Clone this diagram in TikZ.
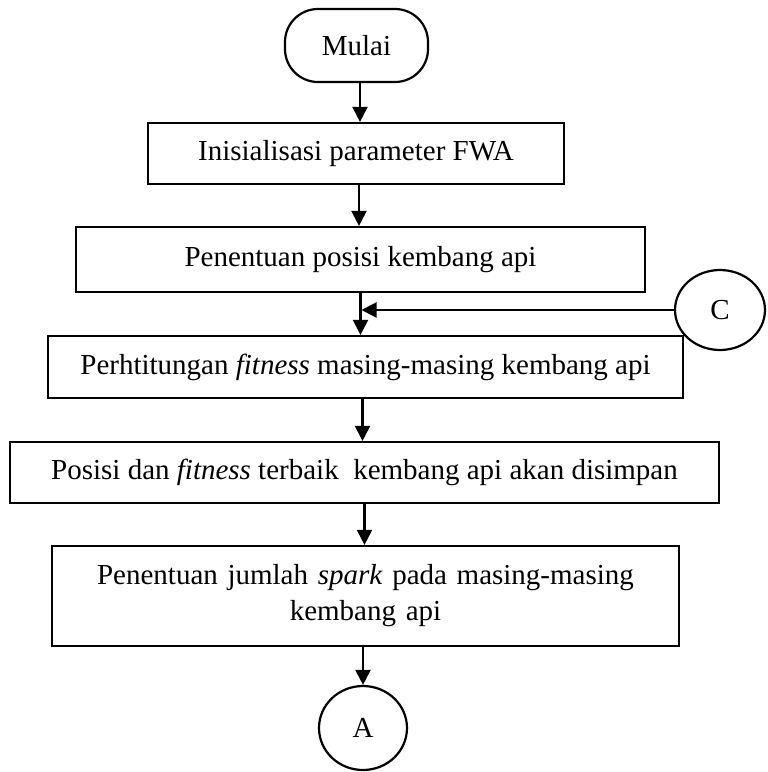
\documentclass[tikz,border=0pt]{standalone}
\usepackage{fontspec}
\setmainfont{Liberation Serif}
\usetikzlibrary{arrows.meta, shapes.geometric}

\begin{document}
\begin{tikzpicture}[x=1pt, y=-1pt,
    font=\fontsize{29}{36}\selectfont,
    proses/.style={draw, line width=2.2pt, inner sep=0pt, align=center},
    konektor/.style={draw, line width=2.2pt, ellipse, inner sep=0pt},
    panah/.style={line width=2.2pt, -{Triangle[length=15pt, width=15pt]}}]

    % Fix the page to the reference size
    \useasboundingbox (0,0) rectangle (768,772);

    % Start terminal
    \node[proses, rounded corners=33pt, minimum width=143pt, minimum height=73pt] (mulai) at (356.5,45.5) {Mulai};

    % Process boxes
    \node[proses, minimum width=416pt, minimum height=61pt] (inisial) at (356,153.5) {Inisialisasi parameter FWA};
    \node[proses, minimum width=569pt, minimum height=65pt] (posisi) at (360.5,259.5) {Penentuan posisi kembang api};
    \node[proses, minimum width=635pt, minimum height=62pt] (fitness) at (365.5,367) {Perhtitungan \textit{fitness} masing-masing kembang api};
    \node[proses, minimum width=709pt, minimum height=61pt] (simpan) at (364.5,472.5) {Posisi dan \textit{fitness} terbaik~ kembang api akan disimpan};
    \node[proses, minimum width=627pt, minimum height=100pt, text width=600pt] (spark) at (365.5,596) {Penentuan jumlah \textit{spark} pada masing-masing\\kembang api};

    % Off-page connectors
    \node[konektor, minimum width=90pt, minimum height=80pt] (c) at (720,310) {C};
    \node[konektor, minimum width=88pt, minimum height=84pt] (a) at (363,728) {A};

    % Flow arrows
    \draw[panah] ([xshift=3.5pt]mulai.south) -- ([xshift=3.5pt]mulai.south |- inisial.north);
    \draw[panah] ([xshift=3pt]inisial.south) -- ([xshift=3pt]inisial.south |- posisi.north);
    \draw[panah] (posisi.south) -- (posisi.south |- fitness.north);
    \draw[panah] (c.west) -- ([xshift=1pt]c.west -| posisi.south);
    \draw[panah] ([xshift=-3pt]fitness.south) -- ([xshift=-3pt]fitness.south |- simpan.north);
    \draw[panah] (simpan.south) -- (simpan.south |- spark.north);
    \draw[panah] ([xshift=-2.5pt]spark.south) -- (a.north);

\end{tikzpicture}
\end{document}
